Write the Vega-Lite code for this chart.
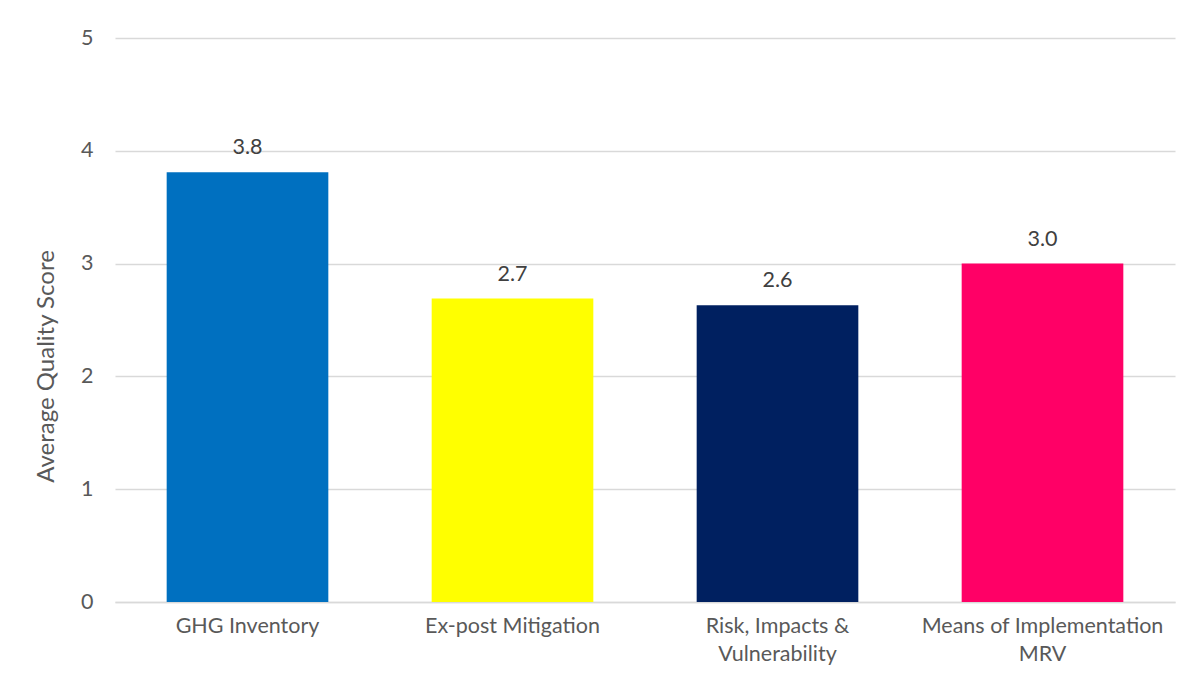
{
  "$schema": "https://vega.github.io/schema/vega-lite/v6.json",
  "autosize": "none",
  "width": 1060,
  "height": 564,
  "padding": {"left": 115, "top": 38, "right": 24, "bottom": 87},
  "background": "#ffffff",
  "config": {
    "font": "Lato",
    "view": {"stroke": null}
  },
  "data": {
    "values": [
      {"category": "GHG Inventory", "score": 3.81},
      {"category": "Ex-post Mitigation", "score": 2.69},
      {"category": "Risk, Impacts & Vulnerability", "score": 2.63},
      {"category": "Means of Implementation MRV", "score": 3.0}
    ]
  },
  "encoding": {
    "x": {
      "field": "category",
      "type": "nominal",
      "sort": null,
      "scale": {"paddingInner": 0.39, "paddingOuter": 0.195},
      "axis": {
        "title": null,
        "labelAngle": 0,
        "labelFontSize": 21.5,
        "labelColor": "#595959",
        "labelPadding": 13,
        "labelLineHeight": 28,
        "labelBaseline": "top",
        "labelLimit": 400,
        "ticks": false,
        "domainColor": "#D9D9D9",
        "domainWidth": 1.5,
        "labelExpr": "datum.value == 'Risk, Impacts & Vulnerability' ? ['Risk, Impacts &', 'Vulnerability'] : datum.value == 'Means of Implementation MRV' ? ['Means of Implementation', 'MRV'] : datum.value"
      }
    },
    "y": {
      "field": "score",
      "type": "quantitative",
      "scale": {"domain": [0, 5], "nice": false},
      "axis": {
        "title": "Average Quality Score",
        "titleFontSize": 24,
        "titleFontWeight": "normal",
        "titleColor": "#595959",
        "titlePadding": 22,
        "titleY": 328,
        "values": [0, 1, 2, 3, 4, 5],
        "format": "d",
        "labelFontSize": 21.5,
        "labelColor": "#595959",
        "labelPadding": 22,
        "ticks": false,
        "domain": false,
        "gridColor": "#D9D9D9",
        "gridWidth": 1.5
      }
    }
  },
  "layer": [
    {
      "mark": {"type": "bar"},
      "encoding": {
        "color": {
          "field": "category",
          "type": "nominal",
          "scale": {
            "domain": ["GHG Inventory", "Ex-post Mitigation", "Risk, Impacts & Vulnerability", "Means of Implementation MRV"],
            "range": ["#0070C0", "#FFFF00", "#002060", "#FF0066"]
          },
          "legend": null
        }
      }
    },
    {
      "mark": {"type": "text", "baseline": "alphabetic", "dy": -18, "fontSize": 21.5, "color": "#404040"},
      "encoding": {
        "text": {"field": "score", "type": "quantitative", "format": ".1f"}
      }
    }
  ]
}
